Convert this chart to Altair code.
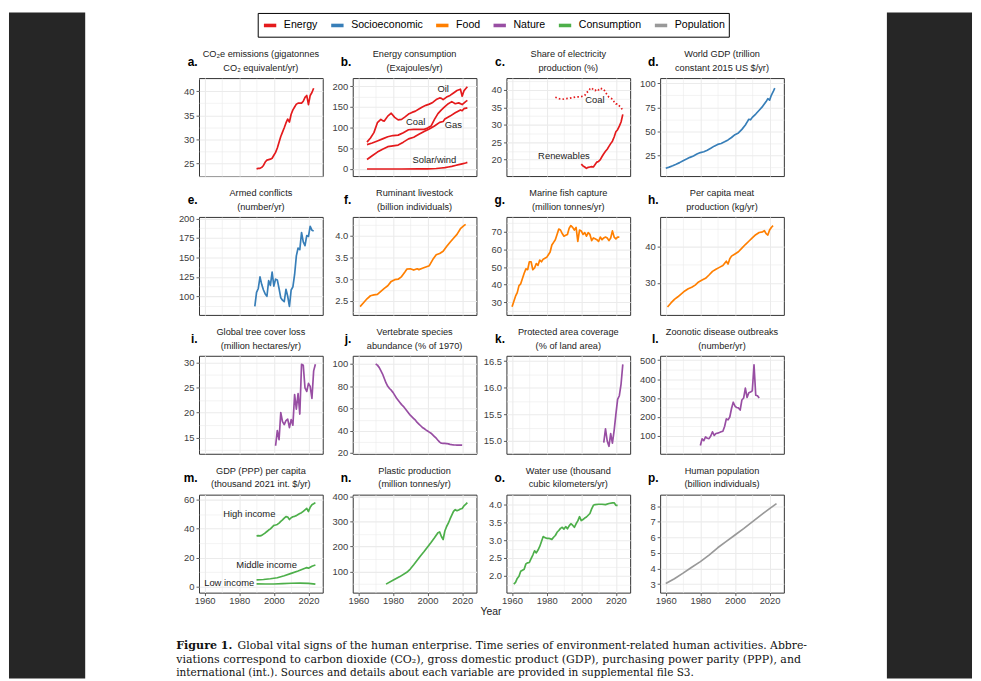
import json
import altair as alt
import pandas as pd

SANS = "Liberation Sans"
SERIF = "DejaVu Serif"
INK = "#222222"
AXIS_INK = "#404040"
GRID = "#EBEBEB"
PAGE_DARK = "#262626"

# ---------------- legend groups ----------------
groups = ["Energy", "Socioeconomic", "Food", "Nature", "Consumption", "Population"]
group_colors = ["#E41A1C", "#377EB8", "#FF7F00", "#984EA3", "#4DAF4A", "#999999"]

letters = ["a.", "b.", "c.", "d.", "e.", "f.", "g.", "h.", "i.", "j.", "k.", "l.", "m.", "n.", "o.", "p."]
title_top = ["CO\u2082e emissions (gigatonnes", "Energy consumption", "Share of electricity", "World GDP (trillion",
             "Armed conflicts", "Ruminant livestock", "Marine fish capture", "Per capita meat",
             "Global tree cover loss", "Vertebrate species", "Protected area coverage", "Zoonotic disease outbreaks",
             "GDP (PPP) per capita", "Plastic production", "Water use (thousand", "Human population"]
title_bottom = ["CO\u2082 equivalent/yr)", "(Exajoules/yr)", "production (%)", "constant 2015 US $/yr)",
                "(number/yr)", "(billion individuals)", "(million tonnes/yr)", "production (kg/yr)",
                "(million hectares/yr)", "abundance (% of 1970)", "(% of land area)", "(number/yr)",
                "(thousand 2021 int. $/yr)", "(million tonnes/yr)", "cubic kilometers/yr)", "(billion individuals)"]
panel_group = ["Energy", "Energy", "Energy", "Socioeconomic", "Socioeconomic", "Food", "Food", "Food",
               "Nature", "Nature", "Nature", "Nature", "Consumption", "Consumption", "Consumption", "Population"]

# ---------------- series ----------------
# a. CO2e emissions
co2_years = list(range(1990, 2024))
co2_vals = [23.9, 24.0, 24.0, 24.2, 24.6, 25.3, 25.7, 25.8, 25.9, 26.1, 26.7, 27.3, 28.2, 29.4, 30.6, 31.5,
            32.4, 33.4, 34.2, 33.6, 35.2, 36.1, 36.7, 37.3, 37.5, 37.5, 37.5, 37.9, 38.7, 39.1, 37.2, 39.1,
            39.7, 40.6]

# b. energy consumption
oil_years = [1965, 1967, 1969, 1971, 1973, 1974, 1975, 1977, 1979, 1981, 1983, 1985, 1987, 1989, 1991, 1993,
             1995, 1997, 1999, 2001, 2003, 2005, 2007, 2008, 2009, 2011, 2013, 2015, 2017, 2019, 2020, 2021,
             2022, 2023]
oil_vals = [65, 75, 88, 112, 120, 117, 116, 128, 135, 125, 119, 120, 126, 133, 137, 140, 145, 150, 154, 157,
            161, 168, 172, 171, 168, 174, 178, 184, 190, 193, 176, 189, 194, 199]
coal_years = [1965, 1968, 1971, 1974, 1977, 1980, 1983, 1986, 1989, 1992, 1995, 1998, 2000, 2002, 2004, 2006,
              2008, 2010, 2012, 2014, 2016, 2018, 2020, 2022, 2023]
coal_vals = [59, 63, 68, 73, 78, 81, 82, 88, 95, 96, 96, 96, 99, 104, 120, 134, 143, 151, 158, 163, 158, 160,
             156, 163, 166]
gas_years = [1965, 1968, 1971, 1974, 1977, 1980, 1983, 1986, 1989, 1992, 1995, 1998, 2001, 2004, 2007, 2009,
             2010, 2013, 2016, 2019, 2020, 2021, 2023]
gas_vals = [23, 32, 41, 48, 54, 56, 58, 65, 73, 77, 84, 91, 97, 104, 113, 115, 121, 128, 136, 143, 141, 146, 148]
solar_years = [1965, 1975, 1985, 1995, 2000, 2005, 2008, 2010, 2012, 2014, 2016, 2018, 2020, 2022, 2023]
solar_vals = [0, 0, 0.05, 0.3, 0.5, 1.2, 2.5, 3.5, 5, 6.5, 8.5, 10.5, 12.5, 14.5, 16]
b_note_text = ["Oil", "Coal", "Gas", "Solar/wind"]
b_note_year = [2009.0, 1993.1, 2014.9, 2003.9]
b_note_value = [194, 114, 106, 21]

# c. share of electricity
coalsh_years = [1985, 1987, 1989, 1991, 1993, 1995, 1997, 1999, 2001, 2002, 2003, 2004, 2005, 2006, 2007, 2008,
                2009, 2010, 2011, 2012, 2013, 2014, 2015, 2016, 2017, 2018, 2019, 2020, 2021, 2022, 2023, 2024]
coalsh_vals = [37.9, 37.5, 37.3, 37.5, 37.6, 37.8, 38.0, 38.0, 38.2, 38.4, 39.2, 39.6, 40.3, 40.6, 40.0, 39.8,
               40.3, 40.0, 40.5, 40.3, 40.2, 39.3, 38.6, 37.9, 37.6, 37.4, 36.6, 36.0, 36.0, 35.4, 35.0, 34.0]
renew_years = list(range(2000, 2025))
renew_vals = [18.7, 18.2, 17.9, 17.5, 17.8, 17.9, 18.0, 17.9, 18.6, 19.3, 19.5, 20.0, 20.9, 21.7, 22.4, 23.0,
              23.8, 24.6, 25.3, 26.5, 28.0, 28.6, 29.6, 30.8, 33.0]
c_note_text = ["Coal", "Renewables"]
c_note_year = [2007.9, 1990.0]
c_note_value = [37.0, 21.1]

# d. world GDP
gdp_years = [1960, 1962, 1964, 1966, 1968, 1970, 1972, 1974, 1976, 1978, 1980, 1982, 1984, 1986, 1988, 1990,
             1992, 1994, 1996, 1998, 2000, 2002, 2004, 2006, 2007, 2008, 2009, 2010, 2012, 2014, 2016, 2018,
             2019, 2020, 2021, 2022, 2023]
gdp_vals = [11.5, 12.6, 14.0, 15.6, 17.3, 19.3, 21.0, 22.8, 24.3, 26.2, 27.8, 28.7, 30.3, 32.3, 34.5, 36.3,
            37.3, 39.0, 41.0, 43.5, 46.5, 48.3, 52.0, 56.5, 59.5, 62.5, 62.0, 64.5, 68.0, 72.0, 76.0, 81.0,
            84.0, 82.5, 87.5, 91.0, 95.0]

# e. armed conflicts
conf_years = list(range(1989, 2024))
conf_vals = [87, 105, 110, 125, 115, 108, 103, 100, 120, 114, 131, 113, 122, 121, 110, 98, 95, 93, 109, 100,
             87, 108, 112, 128, 152, 162, 160, 182, 170, 165, 178, 177, 190, 185, 184]

# f. ruminant livestock
liv_years = [1961, 1963, 1965, 1967, 1969, 1971, 1973, 1975, 1977, 1979, 1981, 1983, 1985, 1987, 1988, 1990,
             1992, 1994, 1995, 1997, 1999, 2001, 2003, 2005, 2007, 2009, 2011, 2013, 2015, 2017, 2019, 2021, 2022]
liv_vals = [2.37, 2.46, 2.55, 2.62, 2.64, 2.65, 2.72, 2.79, 2.85, 2.95, 2.99, 3.00, 3.06, 3.17, 3.23, 3.24,
            3.21, 3.24, 3.22, 3.25, 3.28, 3.31, 3.45, 3.56, 3.59, 3.64, 3.75, 3.85, 3.94, 4.03, 4.16, 4.23, 4.26]

# g. marine fish capture
fish_years = list(range(1960, 2023))
fish_vals = [27.5, 30.5, 33.5, 35.5, 39.5, 40.5, 43.5, 46.5, 49.0, 48.5, 53.0, 53.0, 48.5, 49.5, 52.0, 51.0,
             54.0, 53.0, 54.5, 55.0, 55.5, 57.0, 58.5, 62.5, 64.0, 65.5, 68.5, 71.5, 71.0, 69.0, 67.5, 68.0,
             68.5, 72.0, 73.5, 72.5, 71.0, 72.5, 64.5, 71.0, 70.5, 68.5, 69.5, 67.5, 69.5, 68.5, 65.0, 66.5,
             66.0, 65.5, 64.5, 67.0, 65.5, 66.5, 67.0, 66.5, 65.0, 66.5, 70.5, 67.0, 66.0, 67.0, 67.0]

# h. per capita meat
meat_years = [1961, 1963, 1965, 1967, 1969, 1971, 1973, 1975, 1977, 1979, 1981, 1983, 1985, 1987, 1989, 1991,
              1993, 1995, 1996, 1997, 1998, 2000, 2002, 2004, 2006, 2008, 2010, 2012, 2014, 2016, 2017, 2018,
              2019, 2020, 2021, 2022]
meat_vals = [23.4, 24.5, 25.5, 26.2, 27.0, 27.8, 28.4, 28.8, 29.4, 30.3, 30.8, 31.3, 32.2, 33.2, 33.8, 34.3,
             34.8, 36.0, 35.2, 36.7, 37.4, 38.0, 38.6, 39.6, 40.6, 41.5, 42.4, 43.3, 43.9, 44.1, 44.4, 43.6,
             43.2, 44.6, 45.3, 45.8]

# i. tree cover loss
tree_years = list(range(2001, 2025))
tree_vals = [13.4, 16.4, 14.6, 20.0, 18.2, 17.6, 18.4, 18.7, 17.0, 18.6, 17.5, 23.6, 20.7, 23.8, 19.7, 29.6,
             29.4, 24.9, 24.2, 25.8, 25.2, 22.8, 28.3, 29.6]

# j. vertebrate abundance
lpi_years = list(range(1970, 2021))
lpi_vals = [100, 99, 97, 94, 91, 87, 83, 80, 78, 76.5, 74.5, 72, 69.5, 67.5, 65.5, 63.5, 62, 60, 58, 56,
            54, 52.5, 51, 49.5, 47.5, 46, 44.5, 43, 42, 40.8, 39.8, 38.8, 37.8, 36.3, 34.8, 33.3, 31.5, 29.8,
            28.8, 28.6, 28.6, 28.5, 28.2, 27.8, 27.5, 27.3, 27.2, 27.1, 27.0, 27.1, 27.0]

# k. protected area
prot_years = list(range(2013, 2025))
prot_vals = [14.97, 15.23, 15.0, 14.9, 15.14, 14.96, 15.2, 15.5, 15.78, 15.85, 16.07, 16.44]

# l. zoonotic outbreaks
zoo_years = list(range(1980, 2015))
zoo_vals = [50, 85, 75, 95, 88, 86, 100, 122, 103, 113, 115, 118, 122, 125, 150, 190, 185, 200, 245, 278,
            258, 250, 248, 237, 290, 300, 352, 303, 328, 332, 338, 475, 315, 312, 300]

# m. GDP (PPP) per capita
high_years = list(range(1990, 2025))
high_vals = [35.0, 35.2, 35.0, 35.3, 36.2, 37.0, 38.0, 39.0, 39.8, 41.0, 42.2, 42.5, 42.9, 43.8, 45.0, 46.0,
             47.2, 48.3, 48.0, 46.3, 47.5, 48.2, 48.5, 49.0, 49.8, 50.5, 51.0, 52.0, 53.0, 54.0, 51.8, 54.8,
             56.5, 57.2, 58.0]
mid_years = [1990, 1994, 1998, 2002, 2006, 2010, 2014, 2018, 2019, 2020, 2022, 2024]
mid_vals = [4.5, 4.8, 5.3, 6.0, 7.4, 9.0, 10.7, 12.6, 13.0, 12.6, 14.0, 14.8]
low_years = [1990, 1995, 2000, 2005, 2010, 2015, 2020, 2024]
low_vals = [1.8, 1.7, 1.7, 1.9, 2.2, 2.3, 2.1, 1.6]
m_note_text = ["High income", "Middle income", "Low income"]
m_note_year = [1985.8, 1995.8, 1974.2]
m_note_value = [50.2, 14.8, 2.05]

# n. plastic production
plas_years = [1976, 1980, 1984, 1988, 1990, 1992, 1994, 1996, 1998, 2000, 2002, 2004, 2006, 2007, 2008, 2009,
              2010, 2011, 2012, 2013, 2014, 2015, 2016, 2017, 2018, 2019, 2020, 2021, 2022, 2023]
plas_vals = [50, 65, 80, 97, 110, 127, 145, 163, 180, 198, 216, 235, 255, 258, 240, 228, 262, 280, 293, 310,
             325, 340, 347, 343, 346, 350, 352, 362, 368, 375]

# o. water use
water_years = list(range(1961, 2009)) + [2010, 2012, 2014, 2016, 2018, 2019, 2020, 2021]
water_vals = [1.76, 1.81, 1.92, 1.98, 2.12, 2.15, 2.18, 2.33, 2.36,
              2.37, 2.48, 2.58, 2.70, 2.64, 2.72, 2.82, 2.96, 3.10, 3.07,
              3.05, 3.05, 3.04, 3.02, 3.08, 3.13, 3.22, 3.27, 3.33, 3.36,
              3.31, 3.38, 3.32, 3.40, 3.46, 3.42, 3.36, 3.46, 3.54, 3.66,
              3.55, 3.58, 3.62, 3.65, 3.70, 3.75, 3.88, 3.98, 4.00,
              4.01, 4.01, 4.00, 4.03, 4.05, 4.05, 3.98, 3.98]

# p. human population
pop_years = [1960, 1965, 1970, 1975, 1980, 1985, 1990, 1995, 2000, 2005, 2010, 2015, 2020, 2024]
pop_vals = [3.03, 3.34, 3.70, 4.08, 4.44, 4.86, 5.33, 5.74, 6.15, 6.56, 6.99, 7.43, 7.84, 8.16]

# ---------------- y scales (domain, major ticks, minor grid, format) ----------------
y_domains = [[22.4, 42.7], [-17, 220], [15.3, 43.4], [3.3, 105.5],
             [76, 202], [2.18, 4.43], [22.9, 78.4], [21.2, 48.2],
             [11.8, 31.3], [19.3, 107.4], [14.76, 16.6], [6, 523],
             [-4.3, 63.5], [16, 407], [1.52, 4.28], [2.45, 8.74]]
y_majors = [[25, 30, 35, 40], [0, 50, 100, 150, 200], [20, 25, 30, 35, 40], [25, 50, 75, 100],
            [100, 125, 150, 175, 200], [2.5, 3.0, 3.5, 4.0], [30, 40, 50, 60, 70], [30, 40],
            [15, 20, 25, 30], [20, 40, 60, 80, 100], [15.0, 15.5, 16.0, 16.5], [100, 200, 300, 400, 500],
            [0, 20, 40, 60], [100, 200, 300, 400], [2.0, 2.5, 3.0, 3.5, 4.0], [3, 4, 5, 6, 7, 8]]
y_minors = [[22.5, 27.5, 32.5, 37.5, 42.5], [25, 75, 125, 175], [17.5, 22.5, 27.5, 32.5, 37.5, 42.5],
            [12.5, 37.5, 62.5, 87.5], [87.5, 112.5, 137.5, 162.5, 187.5], [2.25, 2.75, 3.25, 3.75, 4.25],
            [25, 35, 45, 55, 65, 75], [25, 35, 45], [12.5, 17.5, 22.5, 27.5], [30, 50, 70, 90],
            [15.25, 15.75, 16.25], [50, 150, 250, 350, 450], [10, 30, 50], [50, 150, 250, 350],
            [1.75, 2.25, 2.75, 3.25, 3.75], [3.5, 4.5, 5.5, 6.5, 7.5, 8.5]]
y_formats = ["d", "d", "d", "d", "d", ".1f", "d", "d", "d", "d", ".1f", "d", "d", "d", ".1f", "d"]

x_domain = [1956.75, 2028.25]
x_grid_years = [1960, 1970, 1980, 1990, 2000, 2010, 2020]

cap_bold = "Figure 1."
cap_line1 = "Global vital signs of the human enterprise. Time series of environment-related human activities. Abbre-"
cap_line2 = "viations correspond to carbon dioxide (CO\u2082), gross domestic product (GDP), purchasing power parity (PPP), and"
cap_line3 = "international (int.). Sources and details about each variable are provided in supplemental file S3."

PW, PH = 125, 99
NOVIEW = alt.ViewBackground(stroke="transparent")


def frame(years, vals):
    assert len(years) == len(vals)
    return pd.DataFrame({"year": years, "value": vals})


def x_axis(bottom):
    test = "datum.value % 20 == 0"
    kw = dict(values=x_grid_years, title=None, domain=False, grid=True, gridColor=GRID,
              gridWidth={"condition": {"test": test, "value": 1.1}, "value": 0.6})
    if bottom:
        kw.update(labels=True, ticks=True, tickSize=3, tickColor="#333333", tickWidth=0.8,
                  tickOpacity={"condition": {"test": test, "value": 1}, "value": 0},
                  labelExpr=test + " ? datum.label : ''", format="d", labelFont=SANS,
                  labelFontSize=9.5, labelColor=AXIS_INK, labelPadding=-0.5,
                  labelFlush=False, labelOverlap=False)
    else:
        kw.update(labels=False, ticks=False)
    return alt.Axis(**kw)


def y_axis(i):
    test = "indexof(" + json.dumps(y_majors[i]) + ", datum.value) >= 0"
    return alt.Axis(values=sorted(y_majors[i] + y_minors[i]), title=None, domain=False, grid=True,
                    gridColor=GRID,
                    gridWidth={"condition": {"test": test, "value": 1.1}, "value": 0.6},
                    ticks=True, tickSize=3, tickColor="#333333", tickWidth=0.8,
                    tickOpacity={"condition": {"test": test, "value": 1}, "value": 0},
                    labelExpr=test + " ? datum.label : ''", format=y_formats[i],
                    labelFont=SANS, labelFontSize=9.5, labelColor=AXIS_INK, labelPadding=2,
                    labelFlush=False, labelOverlap=False)


def text_cell(txt, x, y, size, weight="normal", align="center", baseline="middle", color=INK, font=SANS):
    return alt.Chart(pd.DataFrame({"t": [txt]})).mark_text(
        align=align, baseline=baseline, font=font, fontSize=size, fontWeight=weight, color=color
    ).encode(text="t:N", x=alt.value(x), y=alt.value(y))


def panel(i, series, notes=None, extra=None):
    bottom = i >= 12
    color = group_colors[groups.index(panel_group[i])]
    xe = alt.X("year:Q", scale=alt.Scale(domain=x_domain, nice=False, zero=False), axis=x_axis(bottom))
    ye = alt.Y("value:Q", scale=alt.Scale(domain=y_domains[i], nice=False, zero=False), axis=y_axis(i))
    layers = []
    for df, dash in series:
        mk = dict(color=color, strokeWidth=1.7, strokeJoin="round")
        if dash:
            mk["strokeDash"] = dash
        layers.append(alt.Chart(df).mark_line(**mk).encode(x=xe, y=ye))
    if notes is not None:
        layers.append(alt.Chart(notes).mark_text(font=SANS, fontSize=9.5, color=INK)
                      .encode(x=xe, y=ye, text="label:N"))
    layers.append(text_cell(title_top[i], PW / 2, -24.3, 9.3))
    layers.append(text_cell(title_bottom[i], PW / 2, -10.3, 9.3))
    layers.append(text_cell(letters[i], -1.5, -12.6, 12, weight="bold", align="right",
                            baseline="alphabetic", color="#000000"))
    if extra is not None:
        layers.extend(extra)
    return alt.layer(*layers).properties(width=PW, height=PH)


def notes_df(texts, years, values):
    return pd.DataFrame({"label": texts, "year": years, "value": values})


panels = [
    panel(0, [(frame(co2_years, co2_vals), None)]),
    panel(1, [(frame(oil_years, oil_vals), None), (frame(coal_years, coal_vals), None),
              (frame(gas_years, gas_vals), None), (frame(solar_years, solar_vals), None)],
          notes=notes_df(b_note_text, b_note_year, b_note_value)),
    panel(2, [(frame(coalsh_years, coalsh_vals), [1.6, 2.2]), (frame(renew_years, renew_vals), None)],
          notes=notes_df(c_note_text, c_note_year, c_note_value)),
    panel(3, [(frame(gdp_years, gdp_vals), None)]),
    panel(4, [(frame(conf_years, conf_vals), None)]),
    panel(5, [(frame(liv_years, liv_vals), None)]),
    panel(6, [(frame(fish_years, fish_vals), None)]),
    panel(7, [(frame(meat_years, meat_vals), None)]),
    panel(8, [(frame(tree_years, tree_vals), None)]),
    panel(9, [(frame(lpi_years, lpi_vals), None)]),
    panel(10, [(frame(prot_years, prot_vals), None)]),
    panel(11, [(frame(zoo_years, zoo_vals), None)]),
    panel(12, [(frame(high_years, high_vals), None), (frame(mid_years, mid_vals), None),
               (frame(low_years, low_vals), None)],
          notes=notes_df(m_note_text, m_note_year, m_note_value)),
    panel(13, [(frame(plas_years, plas_vals), None)],
          extra=[text_cell("Year", 139.7, 118.1, 10.5)]),
    panel(14, [(frame(water_years, water_vals), None)]),
    panel(15, [(frame(pop_years, pop_vals), None)]),
]

# ---------------- legend cell (also carries the dark page surround) ----------------
legend_rule = alt.Chart(pd.DataFrame({"group": groups})).mark_rule().encode(
    x=alt.value(0), x2=alt.value(0), y=alt.value(0), y2=alt.value(0),
    color=alt.Color("group:N", scale=alt.Scale(domain=groups, range=group_colors),
                    legend=alt.Legend(orient="none", legendX=59.3, legendY=0.5, direction="horizontal",
                                      columns=6, title=None, symbolType="stroke", symbolSize=156,
                                      symbolStrokeWidth=3.6, symbolOpacity=1, labelFont=SANS,
                                      labelFontSize=10.7, labelColor="#000000", labelOffset=5.4,
                                      columnPadding=6, padding=4, strokeColor="#000000",
                                      fillColor="#ffffff", gridAlign="each")))
dark_left = alt.Chart(pd.DataFrame({"t": [0]})).mark_rect(color=PAGE_DARK).encode(
    x=alt.value(-192), x2=alt.value(-115), y=alt.value(0), y2=alt.value(673))
dark_right = alt.Chart(pd.DataFrame({"t": [0]})).mark_rect(color=PAGE_DARK).encode(
    x=alt.value(695), x2=alt.value(781), y=alt.value(0), y2=alt.value(673))
legend_cell = alt.layer(dark_left, dark_right, legend_rule).properties(width=PW, height=24.7, view=NOVIEW)


def blank(h):
    return alt.Chart(pd.DataFrame({"t": [0]})).mark_rect(opacity=0).encode(
        x=alt.value(0), x2=alt.value(1), y=alt.value(0), y2=alt.value(1)).properties(
        width=PW, height=h, view=NOVIEW)


caption_cell = alt.layer(
    text_cell(cap_bold, -23, 12.3, 11.2, weight="bold", align="left", color="#111111", font=SERIF),
    text_cell(cap_line1, 39, 12.3, 10.95, align="left", color="#111111", font=SERIF),
    text_cell(cap_line2, -23, 26.3, 11.1, align="left", color="#111111", font=SERIF),
    text_cell(cap_line3, -23, 40.3, 10.6, align="left", color="#111111", font=SERIF),
).properties(width=PW, height=30, view=NOVIEW)

cells = [legend_cell, blank(24.7), blank(24.7), blank(24.7)] + panels + [caption_cell]

chart = alt.concat(*cells, columns=4, spacing={"row": 41.3, "column": 30.3}, align="each",
                   bounds="flush").properties(padding=0, background="#ffffff")
chart = chart.configure_view(stroke="#333333", strokeWidth=1)

chart.save("out.html", embed_options={"renderer": "svg", "actions": False})
